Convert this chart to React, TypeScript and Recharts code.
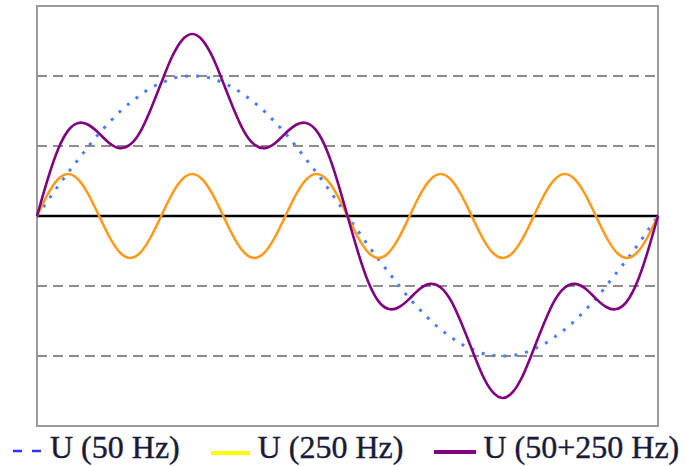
import React from "react";
import { LineChart, Line, XAxis, YAxis, ReferenceLine, ReferenceArea } from "recharts";

// sample index over one 50 Hz period (0..60)
const steps: number[] = [
  0, 1, 2, 3, 4, 5, 6, 7, 8, 9, 10, 11, 12, 13, 14, 15, 16, 17, 18, 19, 20,
  21, 22, 23, 24, 25, 26, 27, 28, 29, 30, 31, 32, 33, 34, 35, 36, 37, 38, 39, 40,
  41, 42, 43, 44, 45, 46, 47, 48, 49, 50, 51, 52, 53, 54, 55, 56, 57, 58, 59, 60,
];

const u50: number[] = [
  0, 0.21, 0.42, 0.62, 0.81, 1.0, 1.18, 1.34, 1.49, 1.62, 1.73, 1.83, 1.9, 1.96, 1.99, 2.0,
  1.99, 1.96, 1.9, 1.83, 1.73, 1.62, 1.49, 1.34, 1.18, 1.0, 0.81, 0.62, 0.42, 0.21, 0,
  -0.21, -0.42, -0.62, -0.81, -1.0, -1.18, -1.34, -1.49, -1.62, -1.73, -1.83, -1.9, -1.96, -1.99, -2.0,
  -1.99, -1.96, -1.9, -1.83, -1.73, -1.62, -1.49, -1.34, -1.18, -1.0, -0.81, -0.62, -0.42, -0.21, 0,
];

const u250: number[] = [
  0, 0.3, 0.52, 0.6, 0.52, 0.3, 0, -0.3, -0.52, -0.6, -0.52, -0.3,
  0, 0.3, 0.52, 0.6, 0.52, 0.3, 0, -0.3, -0.52, -0.6, -0.52, -0.3,
  0, 0.3, 0.52, 0.6, 0.52, 0.3, 0, -0.3, -0.52, -0.6, -0.52, -0.3,
  0, 0.3, 0.52, 0.6, 0.52, 0.3, 0, -0.3, -0.52, -0.6, -0.52, -0.3,
  0, 0.3, 0.52, 0.6, 0.52, 0.3, 0, -0.3, -0.52, -0.6, -0.52, -0.3,
  0,
];

const uSum: number[] = [
  0, 0.51, 0.94, 1.22, 1.33, 1.3, 1.18, 1.04, 0.97, 1.02, 1.21, 1.53, 1.9, 2.26, 2.51, 2.6,
  2.51, 2.26, 1.9, 1.53, 1.21, 1.02, 0.97, 1.04, 1.18, 1.3, 1.33, 1.22, 0.94, 0.51, 0,
  -0.51, -0.94, -1.22, -1.33, -1.3, -1.18, -1.04, -0.97, -1.02, -1.21, -1.53, -1.9, -2.26, -2.51, -2.6,
  -2.51, -2.26, -1.9, -1.53, -1.21, -1.02, -0.97, -1.04, -1.18, -1.3, -1.33, -1.22, -0.94, -0.51, 0,
];

const gridValues: number[] = [-2, -1, 1, 2];

const legendLabels: string[] = ["U (50 Hz)", "U (250 Hz)", "U (50+250 Hz)"];

const data = steps.map((t, i) => ({ t, u50: u50[i], u250: u250[i], uSum: uSum[i] }));

const textStyle: React.CSSProperties = {
  fontFamily: "'Times New Roman', Times, 'Liberation Serif', serif",
  fontSize: 32,
  lineHeight: "32px",
  color: "#1a1a38",
  whiteSpace: "nowrap",
  WebkitTextStroke: "0.4px #1a1a38",
};

export default function App() {
  return (
    <div style={{ position: "absolute", left: 0, top: 0, width: 685, height: 466, background: "#fff" }}>
      <LineChart
        width={685}
        height={466}
        data={data}
        margin={{ top: 6, right: 27, bottom: 40, left: 37 }}
      >
        <XAxis dataKey="t" type="number" domain={[0, 60]} hide />
        <YAxis type="number" domain={[-3, 3]} hide />
        {gridValues.map((v) => (
          <ReferenceLine key={v} y={v} stroke="#8c8c8c" strokeWidth={1.8} strokeDasharray="10 6" />
        ))}
        <ReferenceLine y={0} stroke="#000" strokeWidth={2.4} />
        <ReferenceArea x1={0} x2={60} y1={-3} y2={3} fill="none" stroke="#9a9a9a" strokeWidth={2} />
        <Line
          dataKey="u50"
          type="natural"
          stroke="#4a7cff"
          strokeWidth={3}
          strokeDasharray="3 8"
          dot={false}
          isAnimationActive={false}
        />
        <Line
          dataKey="u250"
          type="natural"
          stroke="#ff9a1a"
          strokeWidth={2.6}
          dot={false}
          isAnimationActive={false}
        />
        <Line
          dataKey="uSum"
          type="natural"
          stroke="#800080"
          strokeWidth={2.6}
          dot={false}
          isAnimationActive={false}
        />
      </LineChart>
      <div style={{ position: "absolute", left: 13, top: 431, height: 36, display: "flex", alignItems: "flex-start" }}>
        <svg width={30} height={32} style={{ display: "block" }}>
          <line x1={0} y1={20} x2={30} y2={20} stroke="#3030ff" strokeWidth={2.5} strokeDasharray="9 10" />
        </svg>
        <span style={{ ...textStyle, marginLeft: 7 }}>{legendLabels[0]}</span>
        <svg width={39} height={32} style={{ display: "block", marginLeft: 31 }}>
          <line x1={0} y1={22} x2={39} y2={22} stroke="#ffff00" strokeWidth={4} />
        </svg>
        <span style={{ ...textStyle, marginLeft: 8 }}>{legendLabels[1]}</span>
        <svg width={42} height={32} style={{ display: "block", marginLeft: 31 }}>
          <line x1={0} y1={21} x2={42} y2={21} stroke="#800080" strokeWidth={4} />
        </svg>
        <span style={{ ...textStyle, marginLeft: 7 }}>{legendLabels[2]}</span>
      </div>
    </div>
  );
}
